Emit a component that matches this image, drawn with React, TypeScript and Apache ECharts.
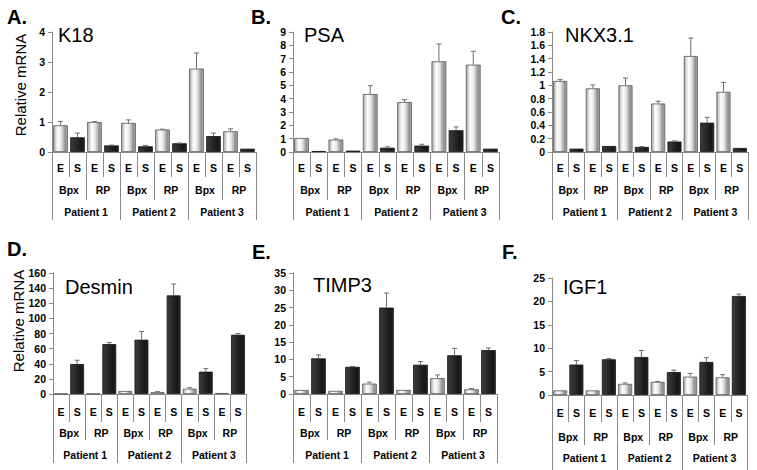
import React, { useEffect, useRef } from "react";
import * as echarts from "echarts";

// Category levels
const tissueLabels = ["E", "S"];
const sampleLabels = ["Bpx", "RP"];
const patientLabels = ["Patient 1", "Patient 2", "Patient 3"];

// Order of values: P1 Bpx, P1 RP, P2 Bpx, P2 RP, P3 Bpx, P3 RP
const k18E = [0.89, 1.0, 0.97, 0.75, 2.78, 0.69];
const k18EErr = [0.13, 0.01, 0.1, 0.01, 0.52, 0.08];
const k18S = [0.49, 0.22, 0.19, 0.29, 0.53, 0.11];
const k18SErr = [0.14, 0.01, 0.03, 0.01, 0.1, 0];

const psaE = [1.05, 0.93, 4.35, 3.75, 6.8, 6.55];
const psaEErr = [0, 0.05, 0.62, 0.18, 1.3, 1.0];
const psaS = [0.07, 0.1, 0.32, 0.48, 1.63, 0.25];
const psaSErr = [0, 0, 0.07, 0.1, 0.25, 0];

const nkxE = [1.066, 0.955, 1.0, 0.727, 1.44, 0.904];
const nkxEErr = [0.02, 0.05, 0.11, 0.035, 0.27, 0.14];
const nkxS = [0.05, 0.09, 0.076, 0.157, 0.44, 0.06];
const nkxSErr = [0, 0, 0.005, 0.01, 0.08, 0];

const desE = [0.5, 0.5, 4, 2.6, 7, 1.3];
const desEErr = [0, 0, 0, 0.5, 1.3, 0];
const desS = [39.6, 66, 71.8, 130.4, 29.5, 78.4];
const desSErr = [5, 2, 11, 15, 4, 1.5];

const timpE = [1.17, 0.9, 3.0, 1.17, 4.57, 1.36];
const timpEErr = [0, 0, 0.45, 0, 0.95, 0.2];
const timpS = [10.3, 7.87, 25.0, 8.45, 11.2, 12.7];
const timpSErr = [1.0, 0.1, 4.2, 0.95, 2.0, 0.6];

const igfE = [0.98, 0.98, 2.38, 2.8, 3.92, 3.78];
const igfEErr = [0, 0, 0.2, 0.1, 0.7, 0.56];
const igfS = [6.5, 7.63, 8.12, 4.9, 7.07, 21.15];
const igfSErr = [0.85, 0.15, 1.4, 0.42, 0.9, 0.4];

const FONT = "'Liberation Sans', Arial, Helvetica, sans-serif";
const LINE = "#8a8a8a";

const panels = [
  { letter: "A.", gene: "K18", e: k18E, eErr: k18EErr, s: k18S, sErr: k18SErr, max: 4, interval: 1,
    grid: { left: 52, top: 32, width: 204, height: 120 }, ylabel: [20, 85],
    letterPos: [7, 16.5], genePos: [58, 35], ticks: [25, 48, 68], margins: [10, 32, 54] },
  { letter: "B.", gene: "PSA", e: psaE, eErr: psaEErr, s: psaS, sErr: psaSErr, max: 9, interval: 1,
    grid: { left: 293, top: 32, width: 206, height: 120 }, ylabel: null,
    letterPos: [251, 16.5], genePos: [304, 35], ticks: [25, 48, 68], margins: [10, 32, 54] },
  { letter: "C.", gene: "NKX3.1", e: nkxE, eErr: nkxEErr, s: nkxS, sErr: nkxSErr, max: 1.8, interval: 0.2,
    grid: { left: 552, top: 32, width: 196, height: 120 }, ylabel: null,
    letterPos: [501, 16.5], genePos: [565, 35], ticks: [25, 48, 68], margins: [10, 32, 54] },
  { letter: "D.", gene: "Desmin", e: desE, eErr: desEErr, s: desS, sErr: desSErr, max: 160, interval: 20,
    grid: { left: 53, top: 273, width: 193, height: 121 }, ylabel: [18.5, 321],
    letterPos: [7, 248.5], genePos: [65, 286.5], ticks: [28, 46, 69], margins: [12, 33, 55] },
  { letter: "E.", gene: "TIMP3", e: timpE, eErr: timpEErr, s: timpS, sErr: timpSErr, max: 35, interval: 5,
    grid: { left: 293, top: 273, width: 204, height: 121 }, ylabel: null,
    letterPos: [252, 251.5], genePos: [313, 285], ticks: [28, 46, 69], margins: [12, 33, 55] },
  { letter: "F.", gene: "IGF1", e: igfE, eErr: igfEErr, s: igfS, sErr: igfSErr, max: 25, interval: 5,
    grid: { left: 552, top: 278, width: 195, height: 117 }, ylabel: null,
    letterPos: [502, 251.5], genePos: [563, 286.5], ticks: [27, 50, 75], margins: [12, 36, 57] },
];

const level1: string[] = [];
const level2: string[] = [];
patientLabels.forEach(() => {
  sampleLabels.forEach((s) => {
    level2.push(s);
    tissueLabels.forEach((t) => level1.push(t));
  });
});

const eStyle = {
  color: new echarts.graphic.LinearGradient(0, 0, 1, 0, [
    { offset: 0, color: "#a8a8a8" },
    { offset: 0.3, color: "#ffffff" },
    { offset: 0.55, color: "#e6e6e6" },
    { offset: 0.85, color: "#8e8e8e" },
    { offset: 1, color: "#b4b4b4" },
  ]),
  borderColor: "#555555",
  borderWidth: 0.8,
};
const sStyle = {
  color: new echarts.graphic.LinearGradient(0, 0, 1, 0, [
    { offset: 0, color: "#3a3a3a" },
    { offset: 0.35, color: "#2c2c2c" },
    { offset: 0.8, color: "#161616" },
    { offset: 1, color: "#2a2a2a" },
  ]),
  borderColor: "#111111",
  borderWidth: 0.8,
};

function buildOption() {
  const grid: any[] = [];
  const xAxis: any[] = [];
  const yAxis: any[] = [];
  const series: any[] = [];
  const graphic: any[] = [];

  panels.forEach((p, i) => {
    grid.push({ ...p.grid, containLabel: false, outerBoundsMode: "none" });
    const levels = [level1, level2, patientLabels];
    levels.forEach((data, li) => {
      xAxis.push({
        type: "category",
        gridIndex: i,
        position: "bottom",
        data,
        boundaryGap: true,
        axisLine: { show: li === 0, lineStyle: { color: LINE, width: 1 } },
        axisTick: { show: true, interval: 0, length: p.ticks[li], lineStyle: { color: LINE, width: 1 } },
        axisLabel: {
          interval: 0,
          margin: p.margins[li],
          fontSize: 10.5,
          fontWeight: "bold",
          fontFamily: FONT,
          color: "#000",
        },
        splitLine: { show: false },
        z: 1,
      });
    });
    yAxis.push({
      type: "value",
      gridIndex: i,
      min: 0,
      max: p.max,
      interval: p.interval,
      axisLine: { show: true, lineStyle: { color: LINE, width: 1 } },
      axisTick: { show: true, length: 4, lineStyle: { color: LINE } },
      splitLine: { show: false },
      axisLabel: {
        margin: 7,
        fontSize: 10.5,
        fontWeight: "bold",
        fontFamily: FONT,
        color: "#000",
        formatter: (v: number) => String(Math.round(v * 100) / 100),
      },
    });

    const barData: any[] = [];
    const errData: any[] = [];
    p.e.forEach((ev, k) => {
      barData.push({ value: ev, itemStyle: eStyle });
      barData.push({ value: p.s[k], itemStyle: sStyle });
      errData.push([2 * k, ev, p.eErr[k]]);
      errData.push([2 * k + 1, p.s[k], p.sErr[k]]);
    });
    series.push({
      type: "bar",
      xAxisIndex: 3 * i,
      yAxisIndex: i,
      data: barData,
      barCategoryGap: "14%",
      z: 2,
    });
    series.push({
      type: "custom",
      xAxisIndex: 3 * i,
      yAxisIndex: i,
      data: errData,
      encode: { x: 0, y: 1 },
      z: 3,
      renderItem: (params: any, api: any) => {
        const x = api.value(0);
        const v = api.value(1);
        const err = api.value(2);
        if (!err) return { type: "group", children: [] };
        const base = api.coord([x, v]);
        const top = api.coord([x, v + err]);
        const hw = 2.5;
        const st = { stroke: "#6e6e6e", lineWidth: 1 };
        return {
          type: "group",
          children: [
            { type: "line", shape: { x1: base[0], y1: base[1], x2: top[0], y2: top[1] }, style: st },
            { type: "line", shape: { x1: top[0] - hw, y1: top[1], x2: top[0] + hw, y2: top[1] }, style: st },
          ],
        };
      },
    });

    graphic.push({
      type: "text",
      x: p.letterPos[0],
      y: p.letterPos[1],
      style: { text: p.letter, fontSize: 20, fontWeight: "bold", fontFamily: FONT, fill: "#000", align: "left", verticalAlign: "middle" },
    });
    graphic.push({
      type: "text",
      x: p.genePos[0],
      y: p.genePos[1],
      style: { text: p.gene, fontSize: 20, fontFamily: FONT, fill: "#000", align: "left", verticalAlign: "middle" },
    });
    if (p.ylabel) {
      graphic.push({
        type: "text",
        x: p.ylabel[0],
        y: p.ylabel[1],
        rotation: Math.PI / 2,
        style: { text: "Relative mRNA", fontSize: 15, fontFamily: FONT, fill: "#000", align: "center", verticalAlign: "middle" },
      });
    }
  });

  return {
    animation: false,
    backgroundColor: "#ffffff",
    grid,
    xAxis,
    yAxis,
    series,
    graphic,
  };
}

export default function App() {
  const ref = useRef<HTMLDivElement>(null);
  useEffect(() => {
    if (!ref.current) return;
    const chart = echarts.init(ref.current, undefined, { renderer: "svg" });
    chart.setOption(buildOption() as any);
    return () => chart.dispose();
  }, []);
  return (
    <div
      ref={ref}
      style={{ position: "fixed", left: 0, top: 0, width: 757, height: 470, background: "#fff" }}
    />
  );
}
